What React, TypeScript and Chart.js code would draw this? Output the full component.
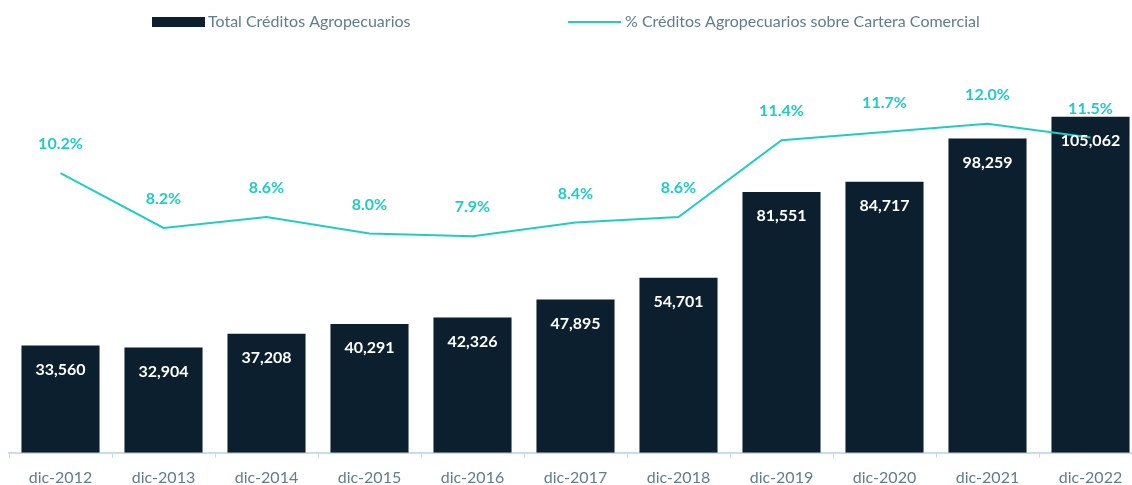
import React, { useEffect, useRef } from "react";
import { Chart, registerables } from "chart.js";

Chart.register(...registerables);

const categories = ["dic-2012", "dic-2013", "dic-2014", "dic-2015", "dic-2016", "dic-2017", "dic-2018", "dic-2019", "dic-2020", "dic-2021", "dic-2022"];
const totalCreditos = [33560, 32904, 37208, 40291, 42326, 47895, 54701, 81551, 84717, 98259, 105062];
const pctCartera = [10.2, 8.2, 8.6, 8.0, 7.9, 8.4, 8.6, 11.4, 11.7, 12.0, 11.5];
const legendBar = "Total Créditos Agropecuarios";
const legendLine = "% Créditos Agropecuarios sobre Cartera Comercial";

const BAR_COLOR = "#0b1f2e";
const LINE_COLOR = "#22ccc5";
const TEXT_COLOR = "#5f7d8c";
const AXIS_COLOR = "#c8dcea";
const FONT = "Lato, 'Open Sans', sans-serif";

const labelsPlugin = {
  id: "customLabels",
  afterDatasetsDraw(chart: any) {
    const ctx = chart.ctx;
    ctx.save();
    ctx.textAlign = "center";
    ctx.textBaseline = "middle";
    ctx.font = `bold 16px ${FONT}`;
    const barMeta = chart.getDatasetMeta(0);
    barMeta.data.forEach((el: any, i: number) => {
      ctx.fillStyle = "#ffffff";
      ctx.fillText(totalCreditos[i].toLocaleString("en-US"), el.x, el.y + 24);
    });
    const lineMeta = chart.getDatasetMeta(1);
    lineMeta.data.forEach((el: any, i: number) => {
      ctx.fillStyle = LINE_COLOR;
      ctx.fillText(pctCartera[i].toFixed(1) + "%", el.x, el.y - 29);
    });
    ctx.restore();
  },
};

const legendPlugin = {
  id: "customLegend",
  afterDraw(chart: any) {
    const ctx = chart.ctx;
    ctx.save();
    ctx.font = `16px ${FONT}`;
    ctx.textBaseline = "middle";
    ctx.textAlign = "left";
    const y = 22;
    ctx.fillStyle = BAR_COLOR;
    ctx.fillRect(152, y - 5, 53, 10);
    ctx.fillStyle = TEXT_COLOR;
    ctx.fillText(legendBar, 208, y);
    ctx.strokeStyle = LINE_COLOR;
    ctx.lineWidth = 2;
    ctx.beginPath();
    ctx.moveTo(568, y);
    ctx.lineTo(621, y);
    ctx.stroke();
    ctx.fillStyle = TEXT_COLOR;
    ctx.fillText(legendLine, 625, y);
    ctx.restore();
  },
};

export default function App() {
  const ref = useRef<HTMLCanvasElement>(null);
  useEffect(() => {
    if (!ref.current) return;
    const chart = new Chart(ref.current, {
      type: "bar",
      data: {
        labels: categories,
        datasets: [
          {
            type: "bar",
            label: legendBar,
            data: totalCreditos,
            backgroundColor: BAR_COLOR,
            barPercentage: 0.758,
            categoryPercentage: 1,
            yAxisID: "y",
            order: 2,
          },
          {
            type: "line",
            label: legendLine,
            data: pctCartera,
            borderColor: LINE_COLOR,
            backgroundColor: LINE_COLOR,
            borderWidth: 2,
            pointRadius: 0,
            tension: 0,
            yAxisID: "y2",
            order: 1,
          },
        ],
      } as any,
      options: {
        animation: false,
        responsive: true,
        maintainAspectRatio: false,
        layout: { padding: { top: 69, left: 9, right: 0, bottom: 0 } },
        plugins: { legend: { display: false }, tooltip: { enabled: false } },
        scales: {
          x: {
            offset: true,
            grid: {
              offset: true,
              drawOnChartArea: false,
              drawTicks: true,
              tickLength: 5,
              color: AXIS_COLOR,
            },
            border: { color: AXIS_COLOR, width: 2 },
            ticks: { color: TEXT_COLOR, font: { family: FONT, size: 16 }, padding: 10 },
          },
          y: { display: false, min: 0, max: 120000 },
          y2: { display: false, min: 0, max: 14, position: "right" },
        },
      },
      plugins: [labelsPlugin, legendPlugin],
    });
    return () => chart.destroy();
  }, []);
  return (
    <div style={{ position: "fixed", left: 0, top: 0, width: 1132, height: 485, overflow: "hidden", background: "#fff" }}>
      <div style={{ position: "absolute", left: 0, top: 0, width: 1142, height: 497 }}>
        <canvas ref={ref} />
      </div>
    </div>
  );
}
